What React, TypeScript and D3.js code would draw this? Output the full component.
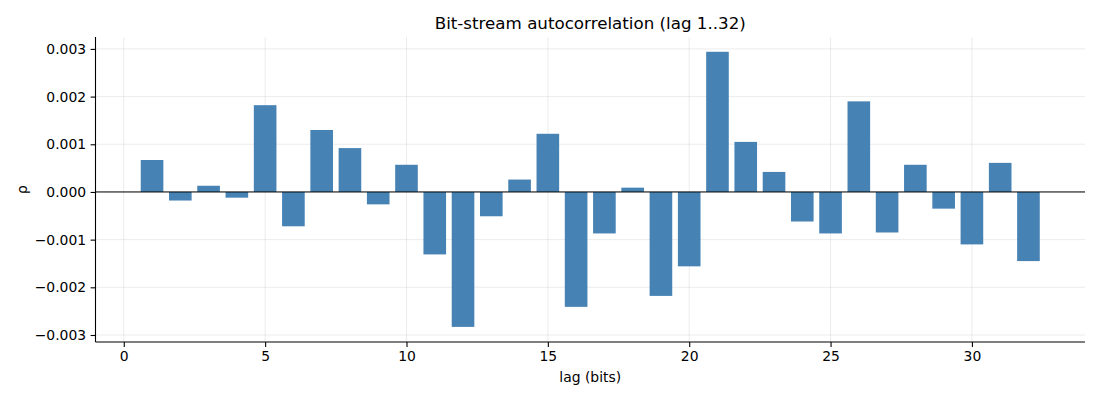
import React, { useEffect, useRef } from 'react';
import * as d3 from 'd3';

// lag values 1..32
const lags: number[] = Array.from({ length: 32 }, (_, i) => i + 1);

// autocorrelation estimates
const rho: number[] = [
  0.00067, -0.00018, 0.00013, -0.00012, 0.00182, -0.00072, 0.0013, 0.00092,
  -0.00026, 0.00057, -0.00131, -0.00283, -0.00051, 0.00026, 0.00122, -0.00241,
  -0.00087, 0.00009, -0.00218, -0.00156, 0.00294, 0.00105, 0.00042, -0.00062,
  -0.00087, 0.0019, -0.00085, 0.00057, -0.00035, -0.0011, 0.00061, -0.00145,
];

const xTicks: number[] = [0, 5, 10, 15, 20, 25, 30];
const yTicks: number[] = [-0.003, -0.002, -0.001, 0, 0.001, 0.002, 0.003];

const App: React.FC = () => {
  const chartRef = useRef<SVGSVGElement>(null);

  useEffect(() => {
    if (!chartRef.current) return;
    const svg = d3.select(chartRef.current);
    svg.selectAll('*').remove();

    const font = 'DejaVu Sans, sans-serif';
    const left = 95.5;
    const right = 1085;
    const top = 37;
    const bottom = 342;

    const x = d3.scaleLinear().domain([-1, 34]).range([left, right]);
    const y = d3.scaleLinear().domain([-0.003147, 0.00325]).range([bottom, top]);

    // Grid
    const grid = svg.append('g');
    grid
      .selectAll('line.vx')
      .data(xTicks)
      .enter()
      .append('line')
      .attr('x1', d => x(d))
      .attr('x2', d => x(d))
      .attr('y1', top)
      .attr('y2', bottom)
      .attr('stroke', '#b0b0b0')
      .attr('stroke-opacity', 0.3)
      .attr('stroke-width', 0.8);
    grid
      .selectAll('line.hy')
      .data(yTicks)
      .enter()
      .append('line')
      .attr('x1', left)
      .attr('x2', right)
      .attr('y1', d => y(d))
      .attr('y2', d => y(d))
      .attr('stroke', '#b0b0b0')
      .attr('stroke-opacity', 0.3)
      .attr('stroke-width', 0.8);

    // Bars
    const bw = x(0.8) - x(0);
    svg
      .append('g')
      .selectAll('rect')
      .data(rho)
      .enter()
      .append('rect')
      .attr('x', (_, i) => x(lags[i]) - bw / 2)
      .attr('width', bw)
      .attr('y', d => y(Math.max(0, d)))
      .attr('height', d => Math.abs(y(d) - y(0)))
      .attr('fill', '#4682b4');

    // Zero line
    svg
      .append('line')
      .attr('x1', left)
      .attr('x2', right)
      .attr('y1', y(0))
      .attr('y2', y(0))
      .attr('stroke', '#000')
      .attr('stroke-width', 1);

    // Axes
    const fmt = (d: number) => d3.format('.3f')(d).replace('-', '\u2212');
    const yAxis = svg
      .append('g')
      .attr('transform', `translate(${left},0)`)
      .call(d3.axisLeft(y).tickValues(yTicks).tickFormat(d => fmt(d as number)).tickSize(4.9).tickPadding(4.5));
    yAxis.select('.domain').attr('d', `M0,${top}V${bottom}`);

    const xAxis = svg
      .append('g')
      .attr('transform', `translate(0,${bottom})`)
      .call(d3.axisBottom(x).tickValues(xTicks).tickFormat(d3.format('d')).tickSize(4.9).tickPadding(4.5));
    xAxis.select('.domain').attr('d', `M${left},0H${right}`);

    [xAxis, yAxis].forEach(a => {
      a.selectAll('text').style('font-family', font).style('font-size', '13.9px').attr('fill', '#000');
      a.select('.domain').attr('stroke', '#000').attr('stroke-width', 1.1);
      a.selectAll('.tick line').attr('stroke', '#000').attr('stroke-width', 1.1);
    });

    // Title + labels
    svg
      .append('text')
      .attr('x', (left + right) / 2)
      .attr('y', 29)
      .attr('text-anchor', 'middle')
      .style('font-family', font)
      .style('font-size', '16.7px')
      .text('Bit-stream autocorrelation (lag 1..32)');

    svg
      .append('text')
      .attr('x', (left + right) / 2)
      .attr('y', 382)
      .attr('text-anchor', 'middle')
      .style('font-family', font)
      .style('font-size', '13.9px')
      .text('lag (bits)');

    svg
      .append('text')
      .attr('transform', `translate(27,${(top + bottom) / 2}) rotate(-90)`)
      .attr('text-anchor', 'middle')
      .style('font-family', font)
      .style('font-size', '13.9px')
      .text('ρ');
  }, []);

  return (
    <svg
      ref={chartRef}
      width={1100}
      height={400}
      style={{ position: 'absolute', left: 0, top: 0, background: '#fff' }}
    />
  );
};

export default App;
